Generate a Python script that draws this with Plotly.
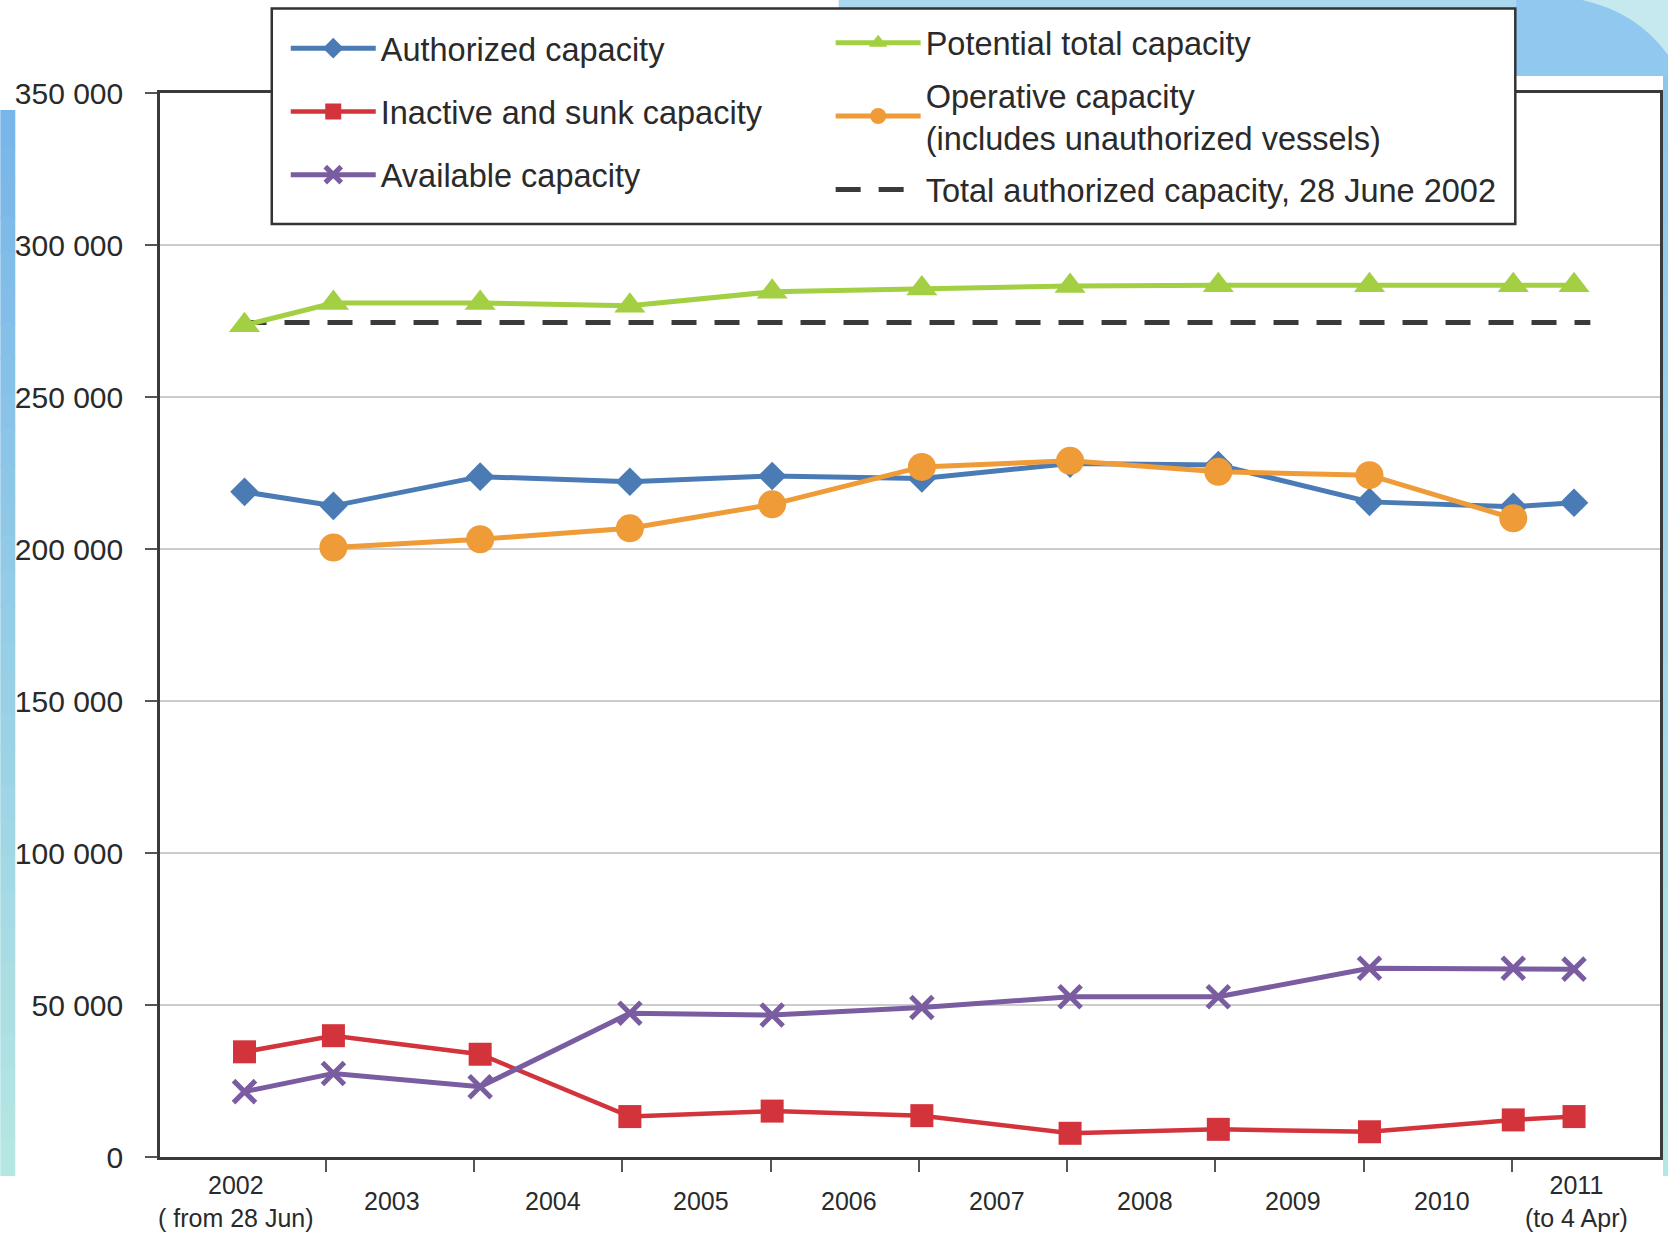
import plotly.graph_objects as go

# ---------------- data ----------------
# observation times as fractional years (28 Jun 2002, then yearly, last = 4 Apr 2011)
obs_time = [2002.45, 2003.05, 2004.04, 2005.05, 2006.01, 2007.02, 2008.02,
            2009.02, 2010.04, 2011.01, 2011.42]

authorized = [218800, 214200, 223800, 222100, 224000, 223200, 228100,
              227600, 215500, 213900, 215200]
inactive = [34600, 39900, 33800, 13300, 15100, 13600, 7800,
            9100, 8300, 12200, 13300]
available = [21500, 27500, 23100, 47300, 46700, 49200, 52700,
             52700, 62100, 62100, 61800]
potential = [273600, 280900, 280900, 280000, 284600, 285700, 286500,
             286800, 286800, 286800, 286800]
operative = [None, 200500, 203200, 206800, 214700, 227000, 229000,
             225400, 224300, 210100, None]

ref_capacity_2002 = 274500          # total authorized capacity, 28 June 2002
ref_span = [2002.43, 2011.53]       # extent of the reference (dashed) line

year_bounds = [2003, 2004, 2005, 2006, 2007, 2008, 2009, 2010, 2011]
period_labels = ["2002<br>( from 28 Jun)", "2003", "2004", "2005", "2006",
                 "2007", "2008", "2009", "2010", "2011<br>(to 4 Apr)"]
y_ticks = [0, 50000, 100000, 150000, 200000, 250000, 300000, 350000]

series_names = {
    "auth": "Authorized capacity",
    "inact": "Inactive and sunk capacity",
    "avail": "Available capacity",
    "pot": "Potential total capacity",
    "oper": "Operative capacity<br>(includes unauthorized vessels)",
    "ref": "Total authorized capacity, 28 June 2002",
}

# ---------------- layout geometry ----------------
W, H = 1671, 1247
ML, MR, MT, MB = 160, 8, 93, 90
PW, PH = W - ML - MR, H - MT - MB
X_RANGE = [2001.88, 2012.0]
LABEL_NUDGE = [-7, -8, 5, 4, 4, 4, 4, 4, 4, -9]   # px, fine placement of period labels

FONT = "Liberation Sans, Arial, sans-serif"
TXT = "#2a2a2a"

C_BLUE = "#4a7bb5"
C_RED = "#d3333b"
C_PURPLE = "#7a5ca0"
C_GREEN = "#a3cf42"
C_ORANGE = "#ee9b38"
C_DASH = "#3a3a3a"


def px_x(px):
    return (px - ML) / PW


def px_y(py):
    return (H - MB - py) / PH


fig = go.Figure()

# dashed reference line (drawn first, underneath)
fig.add_trace(go.Scatter(
    x=ref_span, y=[ref_capacity_2002] * len(ref_span), mode="lines",
    name=series_names["ref"], legend="legend2", legendgroup="ref", legendrank=3,
    line=dict(color=C_DASH, width=5, dash="25px,18px"),
))

fig.add_trace(go.Scatter(
    x=obs_time, y=authorized, mode="lines+markers",
    name=series_names["auth"], legend="legend", legendgroup="auth", legendrank=1,
    line=dict(color=C_BLUE, width=5),
    marker=dict(symbol="diamond", size=22, color=C_BLUE),
))
fig.add_trace(go.Scatter(
    x=obs_time, y=inactive, mode="lines+markers",
    name=series_names["inact"], legend="legend", legendgroup="inact", legendrank=2,
    line=dict(color=C_RED, width=4.5),
    marker=dict(symbol="square", size=23, color=C_RED),
))
fig.add_trace(go.Scatter(
    x=obs_time, y=available, mode="lines+markers",
    name=series_names["avail"], legend="legend", legendgroup="avail", legendrank=3,
    line=dict(color=C_PURPLE, width=5),
    marker=dict(symbol="x-thin", size=22, color=C_PURPLE,
                line=dict(color=C_PURPLE, width=5)),
))
fig.add_trace(go.Scatter(
    x=obs_time, y=potential, mode="lines+markers",
    name=series_names["pot"], legend="legend2", legendgroup="pot", legendrank=1,
    line=dict(color=C_GREEN, width=5),
    marker=dict(symbol="triangle-up", size=27, color=C_GREEN),
))
fig.add_trace(go.Scatter(
    x=obs_time, y=operative, mode="lines+markers",
    name=series_names["oper"], legend="legend2", legendgroup="oper", legendrank=2,
    line=dict(color=C_ORANGE, width=5),
    marker=dict(symbol="circle", size=28, color=C_ORANGE),
))

# ---------------- decorative background ----------------
shapes = []


def hexmix(c1, c2, t):
    a = [int(c1[i:i + 2], 16) for i in (1, 3, 5)]
    b = [int(c2[i:i + 2], 16) for i in (1, 3, 5)]
    return "#%02x%02x%02x" % tuple(round(a[k] + (b[k] - a[k]) * t) for k in range(3))


def strip(x0, x1, y0, y1, ctop, cbot, n=30):
    for i in range(n):
        ya = y0 + (y1 - y0) * i / n
        yb = y0 + (y1 - y0) * (i + 1) / n + 1
        shapes.append(dict(type="rect", xref="paper", yref="paper", layer="below",
                           x0=px_x(x0), x1=px_x(x1), y0=px_y(ya), y1=px_y(yb),
                           fillcolor=hexmix(ctop, cbot, i / (n - 1)), line=dict(width=0)))


# left edge swirl
strip(0, 15, 110, 1175, "#78b6ea", "#b4e6e2")
# right edge
strip(1666, W, 76, 1175, "#8cc8ee", "#b4e6e4")
# top-right corner
shapes.append(dict(type="rect", xref="paper", yref="paper", layer="below",
                   x0=px_x(1518), x1=px_x(W), y0=px_y(76), y1=px_y(0),
                   fillcolor="#90c8ef", line=dict(width=0)))
shapes.append(dict(type="path", xref="paper", yref="paper", layer="below",
                   path="M %f,%f Q %f,%f %f,%f L %f,%f Z" % (
                       px_x(1585), px_y(0), px_x(1640), px_y(12), px_x(W), px_y(55),
                       px_x(W), px_y(0)),
                   fillcolor="#c6e9f0", line=dict(width=0)))
# thin strip above legend box
shapes.append(dict(type="rect", xref="paper", yref="paper", layer="below",
                   x0=px_x(840), x1=px_x(1518), y0=px_y(9), y1=px_y(0),
                   fillcolor="#a8d7ee", line=dict(width=0)))

# legend frame (white, above the plot border)
shapes.append(dict(type="rect", xref="paper", yref="paper", layer="above",
                   x0=px_x(272), x1=px_x(1518), y0=px_y(224), y1=px_y(8.5),
                   fillcolor="white", line=dict(color="#333333", width=2.5)))

# ---------------- x category labels (centred between the year ticks) ----------------
edges = [X_RANGE[0]] + year_bounds + [X_RANGE[1]]
label_x = [(edges[i] + edges[i + 1]) / 2 for i in range(len(edges) - 1)]
annotations = []
for lx, lt, nudge in zip(label_x, period_labels, LABEL_NUDGE):
    annotations.append(dict(x=lx, y=0, xref="x", yref="paper", text=lt,
                            showarrow=False, xanchor="center", yanchor="middle",
                            xshift=nudge, yshift=-44,
                            font=dict(family=FONT, size=25, color=TXT)))

legend_common = dict(
    orientation="v", xanchor="left", yanchor="top",
    bgcolor="rgba(0,0,0,0)", borderwidth=0,
    font=dict(family=FONT, size=32.5, color=TXT),
    itemwidth=85, traceorder="grouped", itemsizing="trace",
)

fig.update_layout(
    width=W, height=H,
    margin=dict(l=ML, r=MR, t=MT, b=MB),
    paper_bgcolor="white", plot_bgcolor="white",
    font=dict(family=FONT, color=TXT),
    showlegend=True,
    legend=dict(x=px_x(286), y=px_y(20.5), tracegroupgap=18, **legend_common),
    legend2=dict(x=px_x(832), y=px_y(15), tracegroupgap=7, **legend_common),
    xaxis=dict(
        range=X_RANGE, showgrid=False, zeroline=False,
        showline=True, mirror=True, linecolor="#3a3a3a", linewidth=2.5,
        tickmode="array", tickvals=year_bounds, ticks="outside",
        ticklen=12, tickwidth=2, tickcolor="#555555", showticklabels=False,
    ),
    yaxis=dict(
        range=[0, 350000], showgrid=True, gridcolor="#cccccc", gridwidth=2,
        zeroline=False, showline=True, mirror=True, linecolor="#3a3a3a", linewidth=2.5,
        tickmode="array", tickvals=y_ticks,
        ticktext=[f"{v:,}".replace(",", " ") for v in y_ticks],
        ticks="outside", ticklen=12, tickwidth=2, tickcolor="#555555",
        ticklabelstandoff=16,
        tickfont=dict(family=FONT, size=30, color=TXT),
    ),
    shapes=shapes,
    annotations=annotations,
)

fig.write_html("out.html", config={"displayModeBar": False},
               post_script="document.body.style.margin='0px';")
